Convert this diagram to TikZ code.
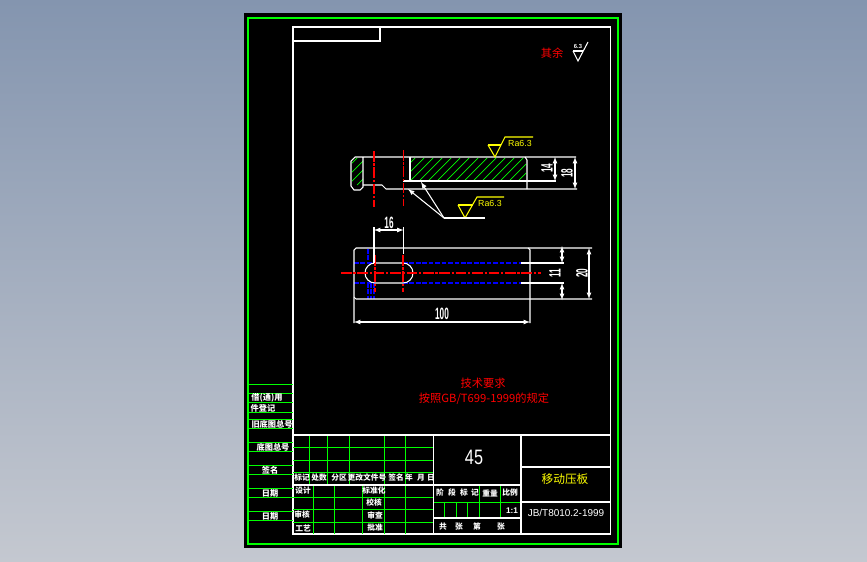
\documentclass[tikz,border=0pt]{standalone}
\usepackage{fontspec}
\usepackage{xcolor}
\usepackage{tikz}
\usetikzlibrary{arrows}
\setmainfont{Liberation Sans}
\newfontfamily\cjk{Noto Sans CJK SC}
\definecolor{cadgreen}{RGB}{0,255,0}
\definecolor{cadred}{RGB}{255,0,0}
\definecolor{cadblue}{RGB}{0,0,255}
\definecolor{cadyellow}{RGB}{255,255,0}
\tikzset{
    wline/.style = {white, line width = 0.9pt},
    gline/.style = {cadgreen, line width = 0.85pt},
    centerline/.style = {cadred, line width = 0.9pt, dash pattern = on 9pt off 1.5pt on 2pt off 1.5pt},
    hidden/.style = {cadblue, line width = 1.1pt, dash pattern = on 4pt off 1.5pt},
    hatch/.style = {cadgreen, line width = 0.6pt},
    dimline/.style = {white, line width = 0.9pt, latex-latex},
    ylw/.style = {cadyellow, line width = 0.9pt},
    dimtext/.style = {white, font = \bfseries\fontsize{14}{14}\selectfont, inner sep = 0pt, xscale = 0.5, transform shape},
    tag/.style = {white, font = \cjk\bfseries\fontsize{7}{7}\selectfont, inner sep = 0pt},
    rowtag/.style = {white, font = \cjk\bfseries\fontsize{6.6}{6.6}\selectfont, inner sep = 0pt},
    redtag/.style = {cadred, font = \cjk\fontsize{9.6}{9.6}\selectfont, inner sep = 0pt},
    ratext/.style = {cadyellow, font = \fontsize{7.5}{7.5}\selectfont, inner sep = 0pt, anchor = west}
}
\begin{document}
\begin{tikzpicture}[x = 0.03cm, y = -0.03cm]
    \useasboundingbox (0, 0) rectangle (867, 562);
    \shade[top color = {rgb,255:red,132;green,149;blue,175}, bottom color = {rgb,255:red,196;green,200;blue,208}] (0, 0) rectangle (867, 562);
    \fill[black] (244, 13) rectangle (622, 548);

    % frames
    \draw[cadgreen, line width = 1.5pt] (248, 18) rectangle (618, 544);
    \draw[wline] (293, 27) rectangle (610.5, 534);
    \draw[wline] (293, 41) -- (380, 41) -- (380, 27);

    % left strip
    \draw[gline] (248, 384) -- (293, 384);
    \draw[gline] (248, 393) -- (293, 393);
    \draw[gline] (248, 402) -- (293, 402);
    \draw[gline] (248, 412) -- (293, 412);
    \draw[gline] (248, 419) -- (293, 419);
    \draw[gline] (248, 428) -- (293, 428);
    \draw[gline] (248, 442) -- (293, 442);
    \draw[gline] (248, 451) -- (293, 451);
    \draw[gline] (248, 465) -- (293, 465);
    \draw[gline] (248, 474) -- (293, 474);
    \draw[gline] (248, 488) -- (293, 488);
    \draw[gline] (248, 497) -- (293, 497);
    \draw[gline] (248, 511) -- (293, 511);
    \draw[gline] (248, 520) -- (293, 520);

    % title block, green rules
    \draw[gline] (293, 447) -- (433, 447);
    \draw[gline] (293, 460) -- (433, 460);
    \draw[gline] (293, 472) -- (433, 472);
    \draw[gline] (293, 497) -- (433, 497);
    \draw[gline] (293, 509) -- (433, 509);
    \draw[gline] (293, 522) -- (433, 522);
    \draw[gline] (309, 435) -- (309, 485);
    \draw[gline] (327, 435) -- (327, 485);
    \draw[gline] (349, 435) -- (349, 485);
    \draw[gline] (384, 435) -- (384, 534);
    \draw[gline] (405, 435) -- (405, 534);
    \draw[gline] (313, 485) -- (313, 534);
    \draw[gline] (334, 485) -- (334, 534);
    \draw[gline] (362, 485) -- (362, 534);
    \draw[gline] (433, 502) -- (521, 502);
    \draw[gline] (444, 502) -- (444, 518);
    \draw[gline] (456, 502) -- (456, 518);
    \draw[gline] (467, 502) -- (467, 518);
    \draw[gline] (479, 485) -- (479, 518);
    \draw[gline] (500, 485) -- (500, 518);

    % title block, white rules
    \draw[wline] (293, 435) -- (610, 435);
    \draw[wline] (293, 485) -- (521, 485);
    \draw[wline] (433.5, 435) -- (433.5, 534);
    \draw[wline] (433, 518) -- (521, 518);
    \draw[wline] (521, 435) -- (521, 534);
    \draw[wline] (521, 467) -- (610, 467);
    \draw[wline] (521, 502) -- (610, 502);

    % side view, hatching
    \begin{scope}
        \clip (410, 158) rectangle (526, 181);
        \foreach \hx in {383, 392, ..., 530} {
            \draw[hatch] (\hx, 181) -- (\hx + 23, 158);
        }
    \end{scope}
    \begin{scope}
        \clip (352, 158) rectangle (363, 185);
        \foreach \hx in {330, 339, ..., 360} {
            \draw[hatch] (\hx, 185) -- (\hx + 27, 158);
        }
    \end{scope}

    % side view, outline
    \draw[wline] (576, 157) -- (355, 157) -- (351, 161) -- (351, 186) -- (354, 190) -- (360, 190) -- (363, 187) -- (363, 157);
    \draw[wline] (363, 185) -- (382, 185) -- (386, 189) -- (577, 189);
    \draw[wline] (403, 181) -- (527, 181);
    \draw[wline] (410, 157) -- (410, 181);
    \draw[wline] (525, 157) -- (527, 160) -- (527, 189);
    \draw[wline] (527, 181) -- (556, 181);
    \draw[centerline] (374, 151) -- (374, 207);
    \draw[centerline] (403.5, 150) -- (403.5, 206);
    \draw[dimline] (555, 157) -- (555, 181);
    \draw[dimline] (575, 157) -- (575, 189);
    \node[rotate = 90, dimtext] (depthA) at (547, 168) {14};
    \node[rotate = 90, dimtext] (depthB) at (567, 173) {18};

    % roughness marks
    \draw[ylw] (488, 145) -- (501, 145);
    \draw[ylw] (488, 145) -- (495, 157) -- (505, 137) -- (533, 137);
    \node[ratext] (raTop) at (508, 143) {Ra6.3};
    \draw[ylw] (458, 205) -- (473, 205);
    \draw[ylw] (458, 205) -- (465, 218) -- (477, 197) -- (504, 197);
    \node[ratext] (raLow) at (478, 203) {Ra6.3};
    \coordinate (leadFoot) at (444, 218);
    \coordinate (leadTipA) at (421, 182);
    \coordinate (leadTipB) at (408, 189);
    \draw[wline] (leadFoot) -- (485, 218);
    \draw[wline, -latex] (leadFoot) -- (leadTipA);
    \draw[wline, -latex] (leadFoot) -- (leadTipB);

    % plan view
    \draw[hidden] (368, 249) -- (368, 263);
    \draw[hidden] (368, 283) -- (368, 299);
    \draw[hidden] (371, 283) -- (371, 299);
    \draw[hidden] (374, 283) -- (374, 299);
    \draw[hidden] (354, 263) -- (375, 263);
    \draw[hidden] (403, 263) -- (521, 263);
    \draw[hidden] (354, 283) -- (375, 283);
    \draw[hidden] (403, 283) -- (521, 283);
    \draw[wline] (521, 263) -- (564, 263);
    \draw[wline] (521, 283) -- (564, 283);
    \draw[wline] (592, 248) -- (356, 248) -- (354, 250) -- (354, 323);
    \draw[wline] (592, 299) -- (356, 299) -- (354, 297);
    \draw[wline] (528, 248) -- (530, 250) -- (530, 323);
    \draw[wline] (375, 263) -- (403, 263) arc (-90 : 90 : 10) -- (375, 283) arc (90 : 270 : 10);
    \draw[centerline] (341, 273) -- (541, 273);
    \draw[centerline] (375, 255) -- (375, 292);
    \draw[centerline] (403, 255) -- (403, 292);
    \draw[wline] (374, 227) -- (374, 263);
    \draw[wline] (403.5, 227) -- (403.5, 254);
    \draw[dimline] (374, 230) -- (403.5, 230);
    \draw[dimline] (354, 322) -- (530, 322);
    \draw[dimline] (562, 246) -- (562, 263);
    \draw[dimline] (562, 300) -- (562, 283);
    \draw[dimline] (589, 248) -- (589, 299);
    \node[dimtext] (widthSlot) at (389, 223) {16};
    \node[dimtext] (lengthAll) at (442, 314) {100};
    \node[rotate = 90, dimtext] (slotGap) at (555, 273) {11};
    \node[rotate = 90, dimtext] (widthAll) at (582, 273) {20};

    % notes
    \node[redtag] (restNote) at (552, 53) {其余};
    \draw[white, line width = 0.9pt] (573, 51) -- (583, 51);
    \draw[white, line width = 0.9pt] (573, 51) -- (578, 61) -- (588, 42);
    \node[white, font = \bfseries\fontsize{5}{5}\selectfont, inner sep = 0pt] (restRa) at (578, 46) {6.3};
    \node[redtag] (techHead) at (483, 383) {技术要求};
    \node[redtag] (techBody) at (484, 399) {按照GB/T699-1999的规定};

    % left strip labels
    \node[tag] (borrow) at (267, 398) {借(通)用};
    \node[tag] (regist) at (263, 408) {件登记};
    \node[tag] (oldNo) at (272, 424) {旧底图总号};
    \node[tag] (baseNo) at (273, 447) {底图总号};
    \node[tag] (signL) at (270, 470) {签名};
    \node[tag] (dateA) at (270, 493) {日期};
    \node[tag] (dateB) at (270, 516) {日期};

    % title block labels
    \node[rowtag] (mark) at (302, 478) {标记};
    \node[rowtag] (count) at (319, 478) {处数};
    \node[rowtag] (zone) at (339, 478) {分区};
    \node[rowtag] (docNo) at (367, 478) {更改文件号};
    \node[rowtag] (signT) at (396, 478) {签名};
    \node[rowtag] (year) at (409, 478) {年};
    \node[rowtag] (month) at (421, 478) {月};
    \node[rowtag] (day) at (431, 478) {日};
    \node[rowtag] (design) at (303, 491) {设计};
    \node[rowtag] (stdize) at (374, 491) {标准化};
    \node[rowtag] (checkA) at (374, 503) {校核};
    \node[rowtag] (review) at (302, 515) {审核};
    \node[rowtag] (checkB) at (375, 515) {审查};
    \node[rowtag] (craft) at (303, 528) {工艺};
    \node[rowtag] (approve) at (375, 528) {批准};
    \node[rowtag] (stageA) at (440, 493) {阶};
    \node[rowtag] (stageB) at (452, 493) {段};
    \node[rowtag] (stageC) at (464, 493) {标};
    \node[rowtag] (stageD) at (475, 493) {记};
    \node[rowtag] (weight) at (490, 493) {重量};
    \node[rowtag] (ratio) at (510, 493) {比例};
    \node[white, font = \bfseries\fontsize{7}{7}\selectfont, inner sep = 0pt] (ratioVal) at (512, 511) {1:1};
    \node[rowtag] (totalA) at (443, 527) {共};
    \node[rowtag] (sheetA) at (459, 527) {张};
    \node[rowtag] (totalB) at (477, 527) {第};
    \node[rowtag] (sheetB) at (501, 527) {张};
    \node[white, font = \fontsize{17.8}{17.8}\selectfont, inner sep = 0pt, xscale = 0.78, transform shape] (material) at (474, 457) {45};
    \node[cadyellow, font = \cjk\fontsize{10}{10}\selectfont, inner sep = 0pt] (partName) at (565, 479) {移动压板};
    \node[white, font = \fontsize{8.5}{8.5}\selectfont, inner sep = 0pt] (partNo) at (566, 513) {JB/T8010.2-1999};
\end{tikzpicture}
\end{document}
